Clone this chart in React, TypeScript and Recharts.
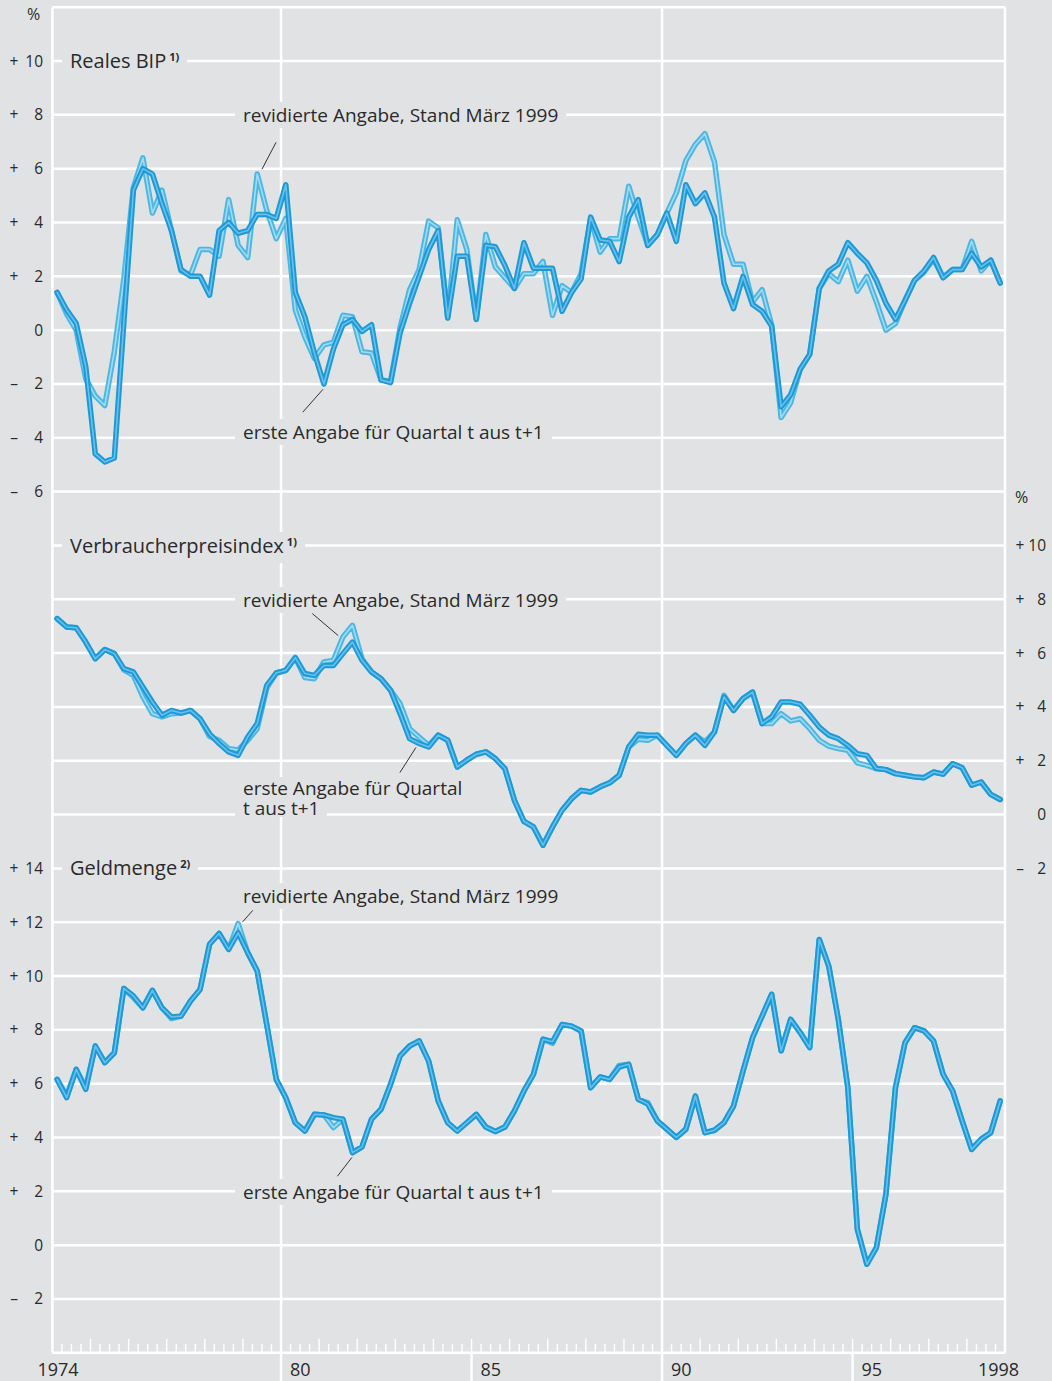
import React from "react";
import {
  LineChart, Line, XAxis, YAxis, CartesianGrid, ReferenceLine,
} from "recharts";

const BG = "#e1e2e4";
const INK = "#2a2a2a";
const FONT = "'Open Sans', 'Noto Sans', sans-serif";

// quarters 1974 Q1 .. 1998 Q4
const years = [
  1974, 1975, 1976, 1977, 1978, 1979, 1980, 1981, 1982, 1983, 1984, 1985,
  1986, 1987, 1988, 1989, 1990, 1991, 1992, 1993, 1994, 1995, 1996, 1997, 1998,
];
const quarters = [1, 2, 3, 4];

// Reales BIP, % change on year
const bipRevised = [
  1.4, 0.6, 0.0, -1.8, -2.45, -2.8, -0.8, 1.9, 5.3, 6.4,
  4.35, 5.2, 3.7, 2.2, 2.05, 3.0, 3.0, 2.75, 4.85, 3.15,
  2.7, 5.8, 4.45, 3.4, 4.15, 0.75, -0.25, -1.05, -0.55, -0.45,
  0.55, 0.5, -0.8, -0.85, -1.85, -1.9, 0.1, 1.5, 2.25, 4.05,
  3.8, 0.45, 4.1, 3.0, 0.4, 3.55, 2.35, 1.95, 1.55, 2.1,
  2.1, 2.55, 0.55, 1.65, 1.4, 2.1, 4.15, 2.9, 3.4, 3.4,
  5.35, 4.2, 3.15, 3.55, 4.35, 5.1, 6.3, 6.9, 7.3, 6.25,
  3.55, 2.45, 2.45, 1.05, 1.5, 0.2, -3.25, -2.7, -1.45, -0.9,
  1.55, 2.1, 1.8, 2.6, 1.45, 2.0, 1.05, 0.0, 0.25, 1.1,
  1.85, 2.15, 2.65, 1.95, 2.25, 2.25, 3.3, 2.2, 2.6, 1.75,
];
const bipFirst = [
  1.4, 0.75, 0.25, -1.35, -4.6, -4.9, -4.75, 0.3, 5.2, 6.0,
  5.8, 4.7, 3.7, 2.25, 2.0, 2.0, 1.3, 3.7, 4.0, 3.6,
  3.7, 4.3, 4.3, 4.15, 5.4, 1.4, 0.5, -0.85, -2.0, -0.7,
  0.2, 0.4, -0.05, 0.2, -1.85, -1.95, -0.1, 1.0, 2.0, 3.0,
  3.7, 0.45, 2.75, 2.75, 0.4, 3.15, 3.1, 2.4, 1.55, 3.25,
  2.3, 2.3, 2.3, 0.7, 1.4, 1.9, 4.2, 3.35, 3.3, 2.55,
  4.2, 4.85, 3.15, 3.55, 4.35, 3.3, 5.4, 4.7, 5.1, 4.2,
  1.75, 0.8, 2.0, 0.95, 0.7, 0.15, -2.85, -2.4, -1.45, -0.9,
  1.55, 2.2, 2.45, 3.25, 2.85, 2.5, 1.85, 1.0, 0.4, 1.1,
  1.85, 2.2, 2.7, 1.95, 2.25, 2.25, 2.85, 2.35, 2.6, 1.75,
];

// Verbraucherpreisindex
const cpiRevised = [
  7.28, 6.97, 6.94, 6.41, 5.79, 6.13, 5.98, 5.38, 5.17, 4.37,
  3.75, 3.63, 3.75, 3.77, 3.87, 3.56, 2.9, 2.76, 2.45, 2.4,
  2.76, 3.19, 4.7, 5.26, 5.36, 5.83, 5.09, 5.05, 5.67, 5.73,
  6.6, 7.03, 5.79, 5.3, 5.05, 4.62, 4.12, 3.19, 2.88, 2.57,
  2.95, 2.76, 1.77, 2.02, 2.24, 2.33, 2.08, 1.71, 0.53, -0.25,
  -0.46, -1.14, -0.46, 0.16, 0.59, 0.9, 0.84, 1.03, 1.18, 1.46,
  2.51, 2.8, 2.76, 2.95, 2.57, 2.2, 2.64, 2.95, 2.7, 3.07,
  4.43, 3.87, 4.31, 4.55, 3.38, 3.38, 3.75, 3.48, 3.56, 3.19,
  2.76, 2.54, 2.45, 2.39, 1.92, 1.83, 1.71, 1.67, 1.52, 1.46,
  1.4, 1.37, 1.58, 1.5, 1.89, 1.74, 1.09, 1.21, 0.75, 0.56,
];
const cpiFirst = [
  7.28, 6.97, 6.94, 6.41, 5.79, 6.13, 5.98, 5.42, 5.3, 4.74,
  4.18, 3.69, 3.87, 3.77, 3.87, 3.56, 3.0, 2.64, 2.33, 2.2,
  2.88, 3.38, 4.8, 5.26, 5.36, 5.83, 5.24, 5.17, 5.54, 5.54,
  5.98, 6.41, 5.73, 5.3, 5.05, 4.62, 3.75, 2.82, 2.64, 2.51,
  2.95, 2.76, 1.77, 2.02, 2.24, 2.33, 2.08, 1.71, 0.53, -0.25,
  -0.46, -1.14, -0.46, 0.16, 0.59, 0.9, 0.84, 1.03, 1.18, 1.46,
  2.51, 2.98, 2.95, 2.95, 2.57, 2.2, 2.64, 2.95, 2.57, 3.07,
  4.37, 3.87, 4.31, 4.55, 3.38, 3.63, 4.18, 4.18, 4.1, 3.69,
  3.25, 2.95, 2.82, 2.57, 2.26, 2.2, 1.71, 1.67, 1.52, 1.46,
  1.4, 1.37, 1.58, 1.5, 1.89, 1.74, 1.09, 1.21, 0.75, 0.56,
];

// Geldmenge
const mRevised = [
  6.16, 5.55, 6.53, 5.85, 7.4, 6.78, 7.15, 9.54, 9.2, 8.82,
  9.47, 8.82, 8.42, 8.51, 9.07, 9.5, 11.18, 11.58, 10.99, 11.95,
  10.87, 10.19, 8.2, 6.16, 5.48, 4.55, 4.24, 4.86, 4.84, 4.37,
  4.68, 3.44, 3.65, 4.68, 5.05, 5.98, 7.03, 7.4, 7.59, 6.84,
  5.36, 4.55, 4.24, 4.55, 4.86, 4.39, 4.22, 4.39, 4.99, 5.73,
  6.35, 7.65, 7.5, 8.2, 8.14, 7.96, 5.85, 6.25, 6.16, 6.68,
  6.72, 5.42, 5.3, 4.62, 4.31, 4.0, 4.31, 5.54, 4.18, 4.27,
  4.55, 5.17, 6.47, 7.71, 8.51, 9.32, 7.22, 8.39, 7.9, 7.34,
  11.36, 10.37, 8.39, 5.85, 0.59, -0.71, -0.09, 1.89, 5.85, 7.52,
  8.08, 7.96, 7.59, 6.35, 5.73, 4.62, 3.56, 3.94, 4.18, 5.36,
];
const mFirst = [
  6.16, 5.48, 6.53, 5.79, 7.4, 6.78, 7.15, 9.54, 9.26, 8.82,
  9.47, 8.82, 8.48, 8.51, 9.07, 9.5, 11.18, 11.58, 10.99, 11.6,
  10.87, 10.19, 8.2, 6.16, 5.48, 4.55, 4.24, 4.86, 4.84, 4.74,
  4.68, 3.44, 3.65, 4.68, 5.05, 5.98, 7.03, 7.4, 7.59, 6.84,
  5.36, 4.55, 4.24, 4.55, 4.86, 4.39, 4.22, 4.39, 4.99, 5.73,
  6.35, 7.65, 7.56, 8.2, 8.14, 7.96, 5.85, 6.25, 6.16, 6.62,
  6.72, 5.42, 5.24, 4.62, 4.31, 4.0, 4.31, 5.54, 4.18, 4.27,
  4.55, 5.17, 6.47, 7.71, 8.51, 9.32, 7.22, 8.39, 7.9, 7.34,
  11.36, 10.37, 8.39, 5.85, 0.59, -0.71, -0.09, 1.89, 5.85, 7.52,
  8.08, 7.96, 7.59, 6.35, 5.73, 4.62, 3.56, 3.94, 4.18, 5.36,
];

const bipTicks = [-6, -4, -2, 0, 2, 4, 6, 8, 10];
const cpiTicks = [-2, 0, 2, 4, 6, 8, 10];
const mLabelled = [-2, 0, 2, 4, 6, 8, 10, 12, 14];
const yearLabels: Record<number, string> = {
  1974: "1974", 1980: "80", 1985: "85", 1990: "90", 1995: "95", 1998: "1998",
};

// x = mid-quarter position on a continuous year scale
const rows = years.flatMap((y, yi) =>
  quarters.map((q, qi) => {
    const i = yi * 4 + qi;
    return {
      label: `${y} Q${q}`,
      t: y + (q - 0.5) / 4,
      bipR: bipRevised[i], bipF: bipFirst[i],
      cpiR: cpiRevised[i], cpiF: cpiFirst[i],
      mR: mRevised[i], mF: mFirst[i],
    };
  })
);

const quarterTicks = [...years, 1999].flatMap((y) =>
  y === 1999 ? [1999] : quarters.map((q) => y + (q - 1) / 4)
);
// white grid every 2 points on the Geldmenge scale, which spans the whole frame
const gridTicks = Array.from({ length: 26 }, (_, k) => -4 + 2 * k);

const REV = { outer: "#4cb7e2", inner: "#a3daf2" };
const FIRST = { outer: "#1d99d6", inner: "#69c0ea" };

function signed(v: number) {
  return { sign: v > 0 ? "+" : v < 0 ? "–" : "", num: String(Math.abs(v)) };
}

const LeftTick = (props: any) => {
  const { y, payload, labelled } = props;
  if (labelled && !labelled.includes(payload.value)) return <g />;
  const { sign, num } = signed(payload.value);
  return (
    <g fontFamily={FONT} fontSize={15.5} fill={INK}>
      <text x={14} y={y} dy={5.5} textAnchor="middle">{sign}</text>
      <text x={43} y={y} dy={5.5} textAnchor="end">{num}</text>
    </g>
  );
};

const RightTick = (props: any) => {
  const { y, payload } = props;
  const { sign, num } = signed(payload.value);
  return (
    <g fontFamily={FONT} fontSize={15.5} fill={INK}>
      <text x={1020} y={y} dy={5.5} textAnchor="middle">{sign}</text>
      <text x={1046} y={y} dy={5.5} textAnchor="end">{num}</text>
    </g>
  );
};

const XTick = (props: any) => {
  const { x, y, payload } = props;
  const v = payload.value as number;
  const yr = Math.round(v);
  const isYear = Math.abs(v - yr) < 1e-6;
  const inner = v > 1974 && v < 1999;
  const label = isYear ? yearLabels[yr] : undefined;
  const longDown = isYear && [1980, 1985, 1990, 1995].includes(yr);
  return (
    <g>
      {inner && (
        <line x1={x} x2={x} y1={y} y2={y - (isYear ? 14 : 9)} stroke="#fff" strokeWidth={1.4} />
      )}
      {longDown && <line x1={x} x2={x} y1={y} y2={y + 30} stroke="#fff" strokeWidth={2.5} />}
      {label && (
        <text
          x={yr === 1974 ? x - 15 : yr === 1998 ? x + 11 : x + 9}
          y={y + 23}
          fontFamily={FONT}
          fontSize={18}
          fill={INK}
          textAnchor="start"
        >
          {label}
        </text>
      )}
    </g>
  );
};

function Tag({ left, top, size = 19, lh = 26, children }: any) {
  return (
    <div
      style={{
        position: "absolute", left, top, padding: "0 8px", background: BG,
        fontFamily: FONT, fontSize: size, lineHeight: `${lh}px`, color: INK,
        whiteSpace: "nowrap",
      }}
    >
      {children}
    </div>
  );
}

const Sup = ({ children }: any) => (
  <span style={{ fontSize: 11, fontWeight: 700, position: "relative", top: -7, marginLeft: 3 }}>
    {children}
  </span>
);

function seriesLines(axis: string, rKey: string, fKey: string) {
  const common = {
    yAxisId: axis, type: "linear" as const, dot: false, activeDot: false,
    isAnimationActive: false, strokeLinejoin: "round" as const, strokeLinecap: "round" as const,
  };
  return [
    <Line key={rKey + "o"} {...common} dataKey={rKey} stroke={REV.outer} strokeWidth={5.5} />,
    <Line key={rKey + "i"} {...common} dataKey={rKey} stroke={REV.inner} strokeWidth={1.6} />,
    <Line key={fKey + "o"} {...common} dataKey={fKey} stroke={FIRST.outer} strokeWidth={5.5} />,
    <Line key={fKey + "i"} {...common} dataKey={fKey} stroke={FIRST.inner} strokeWidth={1.6} />,
  ];
}

const leader = { stroke: "#333", strokeWidth: 1 };
const frame = { stroke: "#fff", strokeWidth: 2.5 };

export default function App() {
  return (
    <div
      style={{
        position: "absolute", left: 0, top: 0, width: 1052, height: 1381,
        background: BG, overflow: "hidden",
      }}
    >
      <LineChart
        width={1052}
        height={1381}
        data={rows}
        margin={{ top: 7.2, right: 47, left: 52.4, bottom: 0 }}
      >
        <XAxis
          dataKey="t"
          type="number"
          domain={[1974, 1999]}
          allowDataOverflow
          ticks={quarterTicks}
          interval={0}
          height={28.2}
          axisLine={false}
          tickLine={false}
          tickSize={0}
          tickMargin={0}
          tick={<XTick />}
        />
        <YAxis
          yAxisId="m" orientation="left" mirror domain={[-4, 46]} ticks={gridTicks}
          interval={0} axisLine={false} tickLine={false}
          tick={<LeftTick labelled={mLabelled} />}
        />
        <YAxis
          yAxisId="bip" orientation="left" mirror domain={[-38, 12]} ticks={bipTicks}
          interval={0} axisLine={false} tickLine={false} tick={<LeftTick />}
        />
        <YAxis
          yAxisId="cpi" orientation="right" mirror domain={[-20, 30]} ticks={cpiTicks}
          interval={0} axisLine={false} tickLine={false} tick={<RightTick />}
        />
        <CartesianGrid
          yAxisId="m"
          vertical={false}
          horizontalValues={gridTicks}
          stroke="#fff"
          strokeWidth={2.5}
        />
        <ReferenceLine yAxisId="m" x={1974} {...frame} />
        <ReferenceLine yAxisId="m" x={1980} {...frame} />
        <ReferenceLine yAxisId="m" x={1990} {...frame} />
        <ReferenceLine yAxisId="m" x={1999} {...frame} />

        {seriesLines("bip", "bipR", "bipF")}
        {seriesLines("cpi", "cpiR", "cpiF")}
        {seriesLines("m", "mR", "mF")}

        <ReferenceLine yAxisId="bip" segment={[{ x: 1979.87, y: 6.98 }, { x: 1979.5, y: 5.98 }]} {...leader} />
        <ReferenceLine yAxisId="bip" segment={[{ x: 1981.1, y: -2.2 }, { x: 1980.57, y: -3.05 }]} {...leader} />
        <ReferenceLine yAxisId="cpi" segment={[{ x: 1980.82, y: 7.47 }, { x: 1981.5, y: 6.65 }]} {...leader} />
        <ReferenceLine yAxisId="cpi" segment={[{ x: 1983.54, y: 2.49 }, { x: 1983.12, y: 1.56 }]} {...leader} />
        <ReferenceLine yAxisId="m" segment={[{ x: 1979.26, y: 12.44 }, { x: 1978.99, y: 12.01 }]} {...leader} />
        <ReferenceLine yAxisId="m" segment={[{ x: 1981.86, y: 3.26 }, { x: 1981.48, y: 2.56 }]} {...leader} />
      </LineChart>

      <div style={{ position: "absolute", left: 27, top: 3, fontFamily: FONT, fontSize: 16, color: INK }}>%</div>
      <div style={{ position: "absolute", left: 1015, top: 486, fontFamily: FONT, fontSize: 16, color: INK }}>%</div>

      <Tag left={62} top={47} size={20} lh={28}>Reales BIP<Sup>1)</Sup></Tag>
      <Tag left={235} top={102}>revidierte Angabe, Stand März 1999</Tag>
      <Tag left={235} top={419}>erste Angabe für Quartal t aus t+1</Tag>

      <Tag left={62} top={532} size={20} lh={28}>Verbraucherpreisindex<Sup>1)</Sup></Tag>
      <Tag left={235} top={587}>revidierte Angabe, Stand März 1999</Tag>
      <Tag left={235} top={799} lh={18}>t aus t+1</Tag>
      <Tag left={235} top={777} lh={22}>erste Angabe für Quartal</Tag>

      <Tag left={62} top={854} size={20} lh={28}>Geldmenge<Sup>2)</Sup></Tag>
      <Tag left={235} top={883}>revidierte Angabe, Stand März 1999</Tag>
      <Tag left={235} top={1179}>erste Angabe für Quartal t aus t+1</Tag>
    </div>
  );
}
